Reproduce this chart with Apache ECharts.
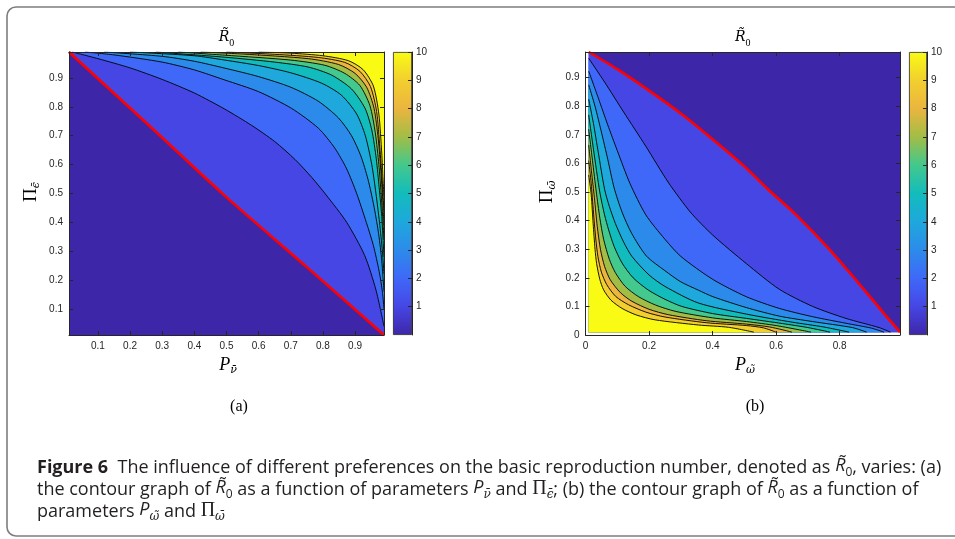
<!DOCTYPE html>
<html>
<head>
<meta charset="utf-8">
<script src="https://cdn.jsdelivr.net/npm/echarts@6/dist/echarts.min.js"></script>
<style>
html, body { margin: 0; padding: 0; background: #fff; }
#chart { width: 955px; height: 539px; }
</style>
</head>
<body>
<div id="chart"></div>
<script>
// ---- values ----
// panel (a): x = P_nu, y = Pi_eps. contour lines of R0 at 1 (red), 2 .. 10
var aTicks = [0.1, 0.2, 0.3, 0.4, 0.5, 0.6, 0.7, 0.8, 0.9];
var aDomain = [0.01, 0.99];
var aRed = [[0.01,0.99],[0.25,0.745],[0.49,0.497],[0.75,0.245],[0.99,0.01]];
var aL2 = [[0.02,0.99],[0.1,0.967],[0.2,0.935],[0.3,0.895],[0.4,0.848],[0.495,0.792],[0.578,0.736],[0.65,0.68],[0.713,0.618],[0.765,0.556],[0.81,0.495],[0.874,0.4],[0.93,0.285],[0.965,0.166],[0.99,0.04]];
var aL3 = [[0.06,0.99],[0.15,0.98],[0.3,0.955],[0.4,0.928],[0.495,0.893],[0.599,0.853],[0.702,0.795],[0.786,0.726],[0.837,0.657],[0.874,0.585],[0.905,0.5],[0.935,0.4],[0.957,0.32],[0.975,0.23],[0.985,0.16],[0.99,0.1]];
var aL4 = [[0.12,0.99],[0.3,0.975],[0.4,0.958],[0.495,0.934],[0.599,0.905],[0.7,0.868],[0.785,0.82],[0.848,0.762],[0.889,0.7],[0.918,0.63],[0.94,0.55],[0.958,0.46],[0.972,0.37],[0.982,0.28],[0.99,0.16]];
var aL5 = [[0.2,0.99],[0.4,0.977],[0.495,0.962],[0.6,0.943],[0.7,0.918],[0.796,0.882],[0.858,0.84],[0.905,0.775],[0.932,0.7],[0.952,0.6],[0.965,0.5],[0.976,0.4],[0.985,0.3],[0.99,0.22]];
var aL6 = [[0.28,0.99],[0.495,0.972],[0.65,0.955],[0.754,0.938],[0.827,0.91],[0.889,0.862],[0.931,0.795],[0.952,0.72],[0.966,0.62],[0.975,0.52],[0.983,0.42],[0.99,0.28]];
var aL7 = [[0.35,0.99],[0.495,0.979],[0.7,0.962],[0.806,0.944],[0.868,0.916],[0.915,0.874],[0.946,0.805],[0.963,0.71],[0.974,0.6],[0.981,0.5],[0.986,0.42],[0.99,0.34]];
var aL8 = [[0.42,0.99],[0.55,0.983],[0.754,0.967],[0.848,0.947],[0.9,0.916],[0.936,0.868],[0.959,0.795],[0.972,0.69],[0.98,0.58],[0.986,0.48],[0.99,0.39]];
var aL9 = [[0.5,0.99],[0.65,0.982],[0.786,0.971],[0.868,0.954],[0.915,0.923],[0.948,0.87],[0.967,0.784],[0.977,0.66],[0.984,0.55],[0.99,0.44]];
var aL10 = [[0.6,0.99],[0.7,0.986],[0.8,0.977],[0.879,0.96],[0.925,0.929],[0.957,0.872],[0.974,0.775],[0.983,0.64],[0.987,0.55],[0.99,0.49]];

// panel (b): x = P_omega, y = Pi_omega
var bXTicks = [0, 0.2, 0.4, 0.6, 0.8];
var bYTicks = [0, 0.1, 0.2, 0.3, 0.4, 0.5, 0.6, 0.7, 0.8, 0.9];
var bAxisMax = 0.99;
var bDomain = [0.01, 0.99];
var bRed = [[0.01,0.99],[0.1,0.93],[0.2,0.855],[0.3,0.775],[0.4,0.685],[0.5,0.59],[0.574,0.51],[0.663,0.42],[0.767,0.3],[0.872,0.165],[0.945,0.068],[0.99,0.01]];
var bL2 = [[0.01,0.968],[0.06,0.885],[0.12,0.78],[0.19,0.66],[0.26,0.535],[0.33,0.43],[0.4,0.35],[0.506,0.25],[0.61,0.16],[0.715,0.1],[0.82,0.058],[0.924,0.026],[0.96,0.01]];
var bL3 = [[0.01,0.923],[0.04,0.83],[0.07,0.735],[0.1,0.645],[0.14,0.53],[0.19,0.42],[0.25,0.335],[0.3,0.275],[0.4,0.195],[0.506,0.134],[0.61,0.093],[0.715,0.064],[0.82,0.041],[0.9,0.024],[0.94,0.01]];
var bL4 = [[0.01,0.875],[0.03,0.8],[0.05,0.71],[0.07,0.615],[0.09,0.515],[0.115,0.43],[0.145,0.356],[0.192,0.276],[0.25,0.225],[0.3,0.186],[0.355,0.157],[0.401,0.134],[0.506,0.096],[0.61,0.066],[0.715,0.047],[0.84,0.026],[0.885,0.01]];
var bL5 = [[0.01,0.825],[0.025,0.74],[0.04,0.64],[0.06,0.51],[0.075,0.45],[0.094,0.39],[0.12,0.325],[0.146,0.275],[0.2,0.21],[0.25,0.17],[0.355,0.112],[0.507,0.073],[0.65,0.045],[0.75,0.028],[0.83,0.01]];
var bL6 = [[0.01,0.77],[0.025,0.65],[0.045,0.5],[0.06,0.42],[0.073,0.367],[0.09,0.31],[0.115,0.252],[0.15,0.2],[0.198,0.157],[0.25,0.125],[0.303,0.1],[0.4,0.075],[0.507,0.058],[0.62,0.04],[0.7,0.026],[0.77,0.01]];
var bL7 = [[0.01,0.72],[0.022,0.61],[0.034,0.5],[0.045,0.41],[0.057,0.335],[0.075,0.265],[0.094,0.218],[0.125,0.17],[0.167,0.134],[0.22,0.105],[0.282,0.083],[0.4,0.06],[0.507,0.047],[0.6,0.033],[0.71,0.01]];
var bL8 = [[0.01,0.665],[0.019,0.57],[0.028,0.48],[0.037,0.38],[0.047,0.3],[0.06,0.24],[0.078,0.193],[0.11,0.148],[0.146,0.118],[0.2,0.09],[0.261,0.071],[0.38,0.05],[0.507,0.038],[0.58,0.028],[0.65,0.01]];
var bL9 = [[0.01,0.61],[0.018,0.53],[0.025,0.43],[0.032,0.34],[0.039,0.275],[0.05,0.22],[0.067,0.176],[0.095,0.135],[0.135,0.106],[0.19,0.08],[0.25,0.063],[0.38,0.043],[0.507,0.033],[0.56,0.025],[0.6,0.01]];
var bL10 = [[0.01,0.56],[0.018,0.49],[0.024,0.39],[0.03,0.3],[0.035,0.25],[0.045,0.195],[0.057,0.158],[0.08,0.122],[0.115,0.093],[0.16,0.07],[0.219,0.053],[0.355,0.035],[0.45,0.027],[0.53,0.01]];

// colorbar
var cbTicks = [1, 2, 3, 4, 5, 6, 7, 8, 9, 10];
var cbMax = 10;

// ---- styling ----
var parula = ['#3e26a8','#4646e4','#3f68f8','#2c8bea','#1ea8dc','#12bcbc','#43c88d','#a2bd46','#ebb53f','#f2cf2e','#f9fb15'];
var INK = '#262626';
var TICKFONT = 'Liberation Sans, Arial, sans-serif';
var SERIF = 'Liberation Serif, DejaVu Serif, serif';
var MARKS = 'DejaVu Serif, serif';   // better combining accents
var CAPFONT = 'Open Sans, Lato, sans-serif';

var aLevels = [aRed, aL2, aL3, aL4, aL5, aL6, aL7, aL8, aL9, aL10];
var bLevels = [bRed, bL2, bL3, bL4, bL5, bL6, bL7, bL8, bL9, bL10];

function fmt(v) { return String(v); }

function valAxis(gi, pos, min, max, ticks, showLabel) {
  return {
    gridIndex: gi, type: 'value', position: pos, min: min, max: max, z: 10,
    axisLine: { show: true, onZero: false, lineStyle: { color: INK, width: 1 } },
    axisTick: { show: true, inside: true, length: 4, customValues: ticks, lineStyle: { color: INK, width: 1 } },
    axisLabel: { show: showLabel, customValues: ticks, formatter: fmt, color: INK, fontSize: 10, fontFamily: TICKFONT, margin: 6 },
    splitLine: { show: false }
  };
}

var SMOOTH = 0.25;

function fillSeries(xi, yi, pts, color, origin, z) {
  return {
    type: 'line', xAxisIndex: xi, yAxisIndex: yi, data: pts, symbol: 'none', silent: true,
    smooth: SMOOTH,
    lineStyle: { width: 0, opacity: 0 },
    areaStyle: { color: color, opacity: 1, origin: origin },
    z: z
  };
}

function strokeSeries(xi, yi, pts, color, width, z) {
  return {
    type: 'line', xAxisIndex: xi, yAxisIndex: yi, data: pts, symbol: 'none', silent: true,
    smooth: SMOOTH,
    lineStyle: { color: color, width: width },
    z: z
  };
}

function panelSeries(xi, yi, domain, levels, origin) {
  var out = [];
  // lowest band fills the whole data domain
  var box = fillSeries(xi, yi, [[domain[0], domain[1]], [domain[1], domain[1]]], parula[0], domain[0], 1);
  box.smooth = false;
  out.push(box);
  levels.forEach(function (pts, k) {
    out.push(fillSeries(xi, yi, pts, parula[k + 1], origin, 2));
  });
  levels.forEach(function (pts, k) {
    if (k > 0) out.push(strokeSeries(xi, yi, pts, '#000', 0.9, 3));
  });
  out.push(strokeSeries(xi, yi, levels[0], '#ff0000', 2.6, 4));
  return out;
}

var cbGradient = new echarts.graphic.LinearGradient(0, 1, 0, 0,
  parula.map(function (c, i) { return { offset: i / (parula.length - 1), color: c }; }));

function colorbarSeries(xi, yi) {
  return {
    type: 'bar', xAxisIndex: xi, yAxisIndex: yi, data: [cbMax], barWidth: '100%', silent: true,
    itemStyle: { color: cbGradient, borderColor: INK, borderWidth: 0.8 }, z: 2
  };
}

function cbAxis(gi) {
  var ax = valAxis(gi, 'right', 0, cbMax, cbTicks, true);
  ax.axisLabel.margin = 4;
  return ax;
}

// rich text for math labels
var mathRich = {
  i: { fontFamily: SERIF, fontStyle: 'italic', fontSize: 18, lineHeight: 20, verticalAlign: 'top', fill: '#000' },
  u: { fontFamily: SERIF, fontSize: 19, lineHeight: 20, verticalAlign: 'top', fill: '#000' },
  s: { fontFamily: MARKS, fontStyle: 'italic', fontSize: 11, lineHeight: 9, verticalAlign: 'bottom', fill: '#000' },
  ti: { fontFamily: MARKS, fontStyle: 'italic', fontSize: 14, lineHeight: 18, verticalAlign: 'top', fill: '#000' },
  ts: { fontFamily: SERIF, fontSize: 10, lineHeight: 8, verticalAlign: 'bottom', fill: '#000' },
  p: { fontFamily: SERIF, fontSize: 16, fill: '#000' }
};

function mathText(x, y, text, rot) {
  return {
    type: 'text', x: x, y: y, rotation: rot || 0, silent: true,
    style: { text: text, rich: mathRich, align: 'center', verticalAlign: 'middle', fill: '#000' }
  };
}

var CAPSIZE = 18;
var capRich = {
  b: { fontFamily: CAPFONT, fontWeight: 'bold', fontSize: CAPSIZE, lineHeight: 22, fill: '#231f20' },
  t: { fontFamily: CAPFONT, fontSize: CAPSIZE, lineHeight: 22, fill: '#231f20' },
  ci: { fontFamily: CAPFONT, fontStyle: 'italic', fontSize: CAPSIZE, lineHeight: 22, verticalAlign: 'top', fill: '#231f20' },
  c0: { fontFamily: CAPFONT, fontSize: 12, lineHeight: 10, verticalAlign: 'bottom', fill: '#231f20' },
  cs: { fontFamily: MARKS, fontStyle: 'italic', fontSize: 12, lineHeight: 10, verticalAlign: 'bottom', fill: '#231f20' },
  pi: { fontFamily: SERIF, fontSize: 20, lineHeight: 22, verticalAlign: 'top', fill: '#231f20' }
};

function capLine(y, text) {
  return {
    type: 'text', x: 37, y: y, silent: true,
    style: { text: text, rich: capRich, align: 'left', verticalAlign: 'middle' }
  };
}

var R0 = '{ci|R\u0303}{c0|0}';
var captionLines = [
  '{b|Figure 6}{t|  The influence of different preferences on the basic reproduction number, denoted as }' + R0 + '{t|, varies: (a)}',
  '{t|the contour graph of }' + R0 + '{t| as a function of parameters }{ci|P}{cs|\u03BD\u0304}{t| and }{pi|\u03A0}{cs|\u03F5\u0304}{t|; (b) the contour graph of }' + R0 + '{t| as a function of}',
  '{t|parameters }{ci|P}{cs|\u03C9\u0303}{t| and }{pi|\u03A0}{cs|\u03C9\u0304}'
];

// ---- layout ----
var gA = { left: 69, top: 52, width: 315, height: 283 };
var cA = { left: 393, top: 52, width: 19, height: 283 };
var gB = { left: 585.5, top: 52, width: 314.5, height: 283 };
var cB = { left: 909, top: 52, width: 18, height: 283 };

var option = {
  animation: false,
  backgroundColor: '#fff',
  grid: [gA, cA, gB, cB],
  xAxis: [
    valAxis(0, 'bottom', aDomain[0], aDomain[1], aTicks, true),
    valAxis(0, 'top', aDomain[0], aDomain[1], aTicks, false),
    { gridIndex: 1, type: 'category', data: ['R0'], show: false },
    valAxis(2, 'bottom', 0, bAxisMax, bXTicks, true),
    valAxis(2, 'top', 0, bAxisMax, bXTicks, false),
    { gridIndex: 3, type: 'category', data: ['R0'], show: false }
  ],
  yAxis: [
    valAxis(0, 'left', aDomain[0], aDomain[1], aTicks, true),
    valAxis(0, 'right', aDomain[0], aDomain[1], aTicks, false),
    cbAxis(1),
    valAxis(2, 'left', 0, bAxisMax, bYTicks, true),
    valAxis(2, 'right', 0, bAxisMax, bYTicks, false),
    cbAxis(3)
  ],
  series: [].concat(
    panelSeries(0, 0, aDomain, aLevels, 'end'),
    [colorbarSeries(2, 2)],
    panelSeries(3, 3, bDomain, bLevels, bDomain[0]),
    [colorbarSeries(5, 5)]
  ),
  graphic: [
    { type: 'rect', silent: true, shape: { x: 7, y: 7, width: 990, height: 529, r: 9 },
      style: { fill: 'none', stroke: '#7d7d7d', lineWidth: 1.6 } },
    mathText(gA.left + gA.width / 2, 39, '{ti|R\u0303}{ts|0}'),
    mathText(gB.left + gB.width / 2, 39, '{ti|R\u0303}{ts|0}'),
    mathText(228, 366, '{i|P}{s|\u03BD\u0304}'),
    mathText(745, 366, '{i|P}{s|\u03C9\u0303}'),
    mathText(32, 192, '{u|\u03A0}{s|\u03F5\u0304}', Math.PI / 2),
    mathText(548, 192, '{u|\u03A0}{s|\u03C9\u0304}', Math.PI / 2),
    mathText(239, 407, '{p|(a)}'),
    mathText(755, 407, '{p|(b)}'),
    capLine(468, captionLines[0]),
    capLine(490, captionLines[1]),
    capLine(512, captionLines[2])
  ]
};

var chart = echarts.init(document.getElementById('chart'));
chart.setOption(option);
</script>
</body>
</html>
